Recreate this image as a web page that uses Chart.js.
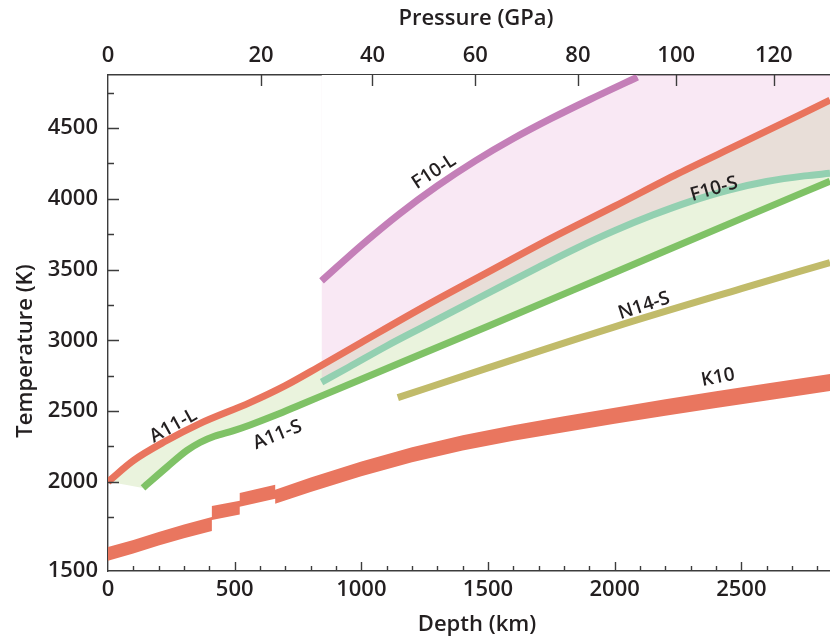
<!DOCTYPE html>
<html>
<head>
<meta charset="utf-8">
<title>Mantle melting curves</title>
<script src="https://cdn.jsdelivr.net/npm/chart.js@4.4.1/dist/chart.umd.min.js"></script>
<style>
  html, body { margin: 0; padding: 0; background: #fff; }
  #wrap { width: 830px; height: 642px; position: relative; }
</style>
</head>
<body>
<div id="wrap"><canvas id="chart"></canvas></div>
<script>
// axis ranges (the bottom edge of the figure is printed "1500")
const depthMax = 2850;
const tempMin = 1370;
const tempMax = 4875;
const tempBottomLabel = '1500';

const depthTicks = Array.from({ length: 29 }, (_, i) => i * 100);
const tempTicks = [1750, 2000, 2250, 2500, 2750, 3000, 3250, 3500, 3750, 4000, 4250, 4500, 4750];
const pressureLabels = [0, 20, 40, 60, 80, 100, 120];
const pressureDepths = [0, 604, 1044, 1450, 1855, 2243, 2628];

// A11 liquidus / solidus
const a11LiqDepth = [0, 100, 230, 360, 560, 700, 830, 1000, 1250, 1500, 1750, 2000, 2250, 2500, 2850];
const a11LiqTemp = [2000, 2150, 2290, 2410, 2560, 2680, 2810, 2985, 3240, 3482, 3722, 3948, 4178, 4393, 4697];
const a11SolDepth = [138, 233, 312, 363, 420, 493, 561, 660, 760, 1000, 1500, 2000, 2500, 2850];
const a11SolTemp = [1957, 2105, 2222, 2278, 2322, 2360, 2402, 2470, 2545, 2725, 3100, 3480, 3860, 4125];

// F10 liquidus / solidus
const f10LiqDepth = [843, 1000, 1150, 1300, 1450, 1600, 1750, 1900, 2090];
const f10LiqTemp = [3420, 3671, 3893, 4091, 4268, 4426, 4568, 4700, 4860];
const f10SolDepth = [843, 950, 1100, 1250, 1400, 1550, 1700, 1850, 2000, 2150, 2300, 2450, 2600, 2750, 2850];
const f10SolTemp = [2705, 2810, 2960, 3100, 3240, 3380, 3518, 3652, 3775, 3885, 3982, 4062, 4122, 4162, 4180];

// N14 solidus
const n14SolDepth = [1144, 1500, 2000, 2500, 2850];
const n14SolTemp = [2595, 2805, 3095, 3365, 3550];

// K10 adiabat band (steps at 410, 520, 660 km)
const k10Depth = [0, 100, 200, 300, 410, 410, 520, 520, 660, 660, 800, 1000, 1200, 1400, 1600, 1800, 2000, 2200, 2400, 2600, 2850];
const k10Upper = [1539, 1589, 1646, 1699, 1751, 1829, 1867, 1922, 1980, 1945, 2030, 2143, 2244, 2329, 2400, 2463, 2524, 2583, 2640, 2695, 2762];
const k10Lower = [1443, 1493, 1550, 1601, 1653, 1731, 1769, 1824, 1880, 1845, 1928, 2039, 2138, 2221, 2290, 2351, 2410, 2467, 2522, 2575, 2642];

const curveLabels = [
    { text: 'A11-L', depth: 258, temp: 2395, angle: -29 },
    { text: 'A11-S', depth: 669, temp: 2331, angle: -22 },
    { text: 'F10-L', depth: 1287, temp: 4190, angle: -33 },
    { text: 'F10-S', depth: 2392, temp: 4069, angle: -16 },
    { text: 'N14-S', depth: 2116, temp: 3243, angle: -18 },
    { text: 'K10', depth: 2408, temp: 2737, angle: -11 },
];

const colors = {
    a11L: '#e9745d',
    a11S: '#7fc266',
    f10L: '#c47fb8',
    f10S: '#93d0b1',
    n14S: '#c1bb6a',
    k10: '#e9765f',
    pinkFill: 'rgba(225, 140, 200, 0.2)',
    greenFill: '#eaf3dd',
    axis: '#3c3c3c',
    text: '#231f20',
};
const none = 'rgba(0,0,0,0)';
const fontFamily = "'Open Sans', 'Noto Sans', sans-serif";
const lineWidth = 7;

const pts = (xs, ys) => xs.map((x, i) => ({ x: x, y: ys[i] }));

// fills are drawn highest index first: K10, green, pink, then white above F10-L
const datasets = [
    { label: 'F10-L', data: pts(f10LiqDepth, f10LiqTemp), borderColor: colors.f10L, borderWidth: lineWidth,
      fill: 'end', backgroundColor: '#ffffff' },
    { label: 'F10-S', data: pts(f10SolDepth, f10SolTemp), borderColor: colors.f10S, borderWidth: lineWidth,
      fill: 'end', backgroundColor: colors.pinkFill },
    { label: 'A11-S', data: pts(a11SolDepth, a11SolTemp), borderColor: colors.a11S, borderWidth: lineWidth,
      fill: { target: 4 }, backgroundColor: colors.greenFill },
    { label: 'A11 edge', data: [{ x: a11LiqDepth[0], y: a11LiqTemp[0] }, { x: a11SolDepth[0], y: a11SolTemp[0] }],
      borderColor: none, borderWidth: 0, fill: { target: 4 }, backgroundColor: colors.greenFill },
    { label: 'A11-L', data: pts(a11LiqDepth, a11LiqTemp), borderColor: colors.a11L, borderWidth: lineWidth, fill: false },
    { label: 'N14-S', data: pts(n14SolDepth, n14SolTemp), borderColor: colors.n14S, borderWidth: lineWidth, fill: false },
    { label: 'K10', data: pts(k10Depth, k10Upper), borderColor: none, borderWidth: 0, tension: 0,
      cubicInterpolationMode: 'default', fill: { target: 7 }, backgroundColor: colors.k10 },
    { label: 'K10 low', data: pts(k10Depth, k10Lower), borderColor: none, borderWidth: 0, tension: 0,
      cubicInterpolationMode: 'default', fill: false },
];

// inward tick marks, axis titles and curve names
const decor = {
    id: 'decor',
    afterDatasetsDraw(chart) {
        const ctx = chart.ctx;
        const x = chart.scales.x;
        const y = chart.scales.y;
        ctx.save();
        ctx.fillStyle = colors.text;
        ctx.font = `600 19px ${fontFamily}`;
        ctx.textAlign = 'center';
        ctx.textBaseline = 'middle';
        curveLabels.forEach(l => {
            ctx.save();
            ctx.translate(x.getPixelForValue(l.depth), y.getPixelForValue(l.temp));
            ctx.rotate(l.angle * Math.PI / 180);
            ctx.fillText(l.text, 0, 0);
            ctx.restore();
        });
        ctx.restore();
    },
    afterDraw(chart) {
        const ctx = chart.ctx;
        const { left, right, top, bottom } = chart.chartArea;
        const { x, x2, y } = chart.scales;
        ctx.save();
        ctx.strokeStyle = colors.axis;
        ctx.lineWidth = 1.4;
        ctx.beginPath();
        y.ticks.forEach(t => {
            if (t.value === tempMin) return;
            const p = Math.round(y.getPixelForValue(t.value)) + 0.5;
            const len = t.value % 500 === 0 ? 11 : 6;
            ctx.moveTo(left, p);
            ctx.lineTo(left + len, p);
        });
        x.ticks.forEach(t => {
            if (t.value === 0) return;
            const p = Math.round(x.getPixelForValue(t.value)) + 0.5;
            const len = t.value % 500 === 0 ? 9 : 5;
            ctx.moveTo(p, bottom);
            ctx.lineTo(p, bottom - len);
        });
        x2.ticks.forEach(t => {
            if (t.value === 0) return;
            const p = Math.round(x2.getPixelForValue(t.value)) + 0.5;
            ctx.moveTo(p, top);
            ctx.lineTo(p, top + 11);
        });
        ctx.stroke();

        ctx.fillStyle = colors.text;
        ctx.font = `600 22px ${fontFamily}`;
        ctx.textAlign = 'center';
        ctx.textBaseline = 'middle';
        ctx.fillText('Pressure (GPa)', 476, 19);
        ctx.fillText('Depth (km)', 477, 625);
        ctx.save();
        ctx.translate(26, 351);
        ctx.rotate(-Math.PI / 2);
        ctx.fillText('Temperature (K)', 0, 0);
        ctx.restore();
        ctx.restore();
    }
};

const tickFont = { family: fontFamily, size: 22, weight: '600' };
const axisBorder = { display: true, color: colors.axis, width: 1.4 };

new Chart(document.getElementById('chart').getContext('2d'), {
    type: 'line',
    data: { datasets: datasets },
    options: {
        responsive: true,
        maintainAspectRatio: false,
        animation: false,
        layout: { padding: 0 },
        elements: {
            point: { radius: 0, hoverRadius: 0 },
            line: { cubicInterpolationMode: 'monotone', borderCapStyle: 'butt' }
        },
        plugins: {
            legend: { display: false },
            tooltip: { enabled: false },
            filler: { drawTime: 'beforeDatasetsDraw' }
        },
        scales: {
            x: {
                type: 'linear',
                position: 'bottom',
                min: 0,
                max: depthMax,
                grid: { display: false, drawTicks: false },
                border: axisBorder,
                ticks: {
                    autoSkip: false,
                    maxRotation: 0,
                    padding: 6,
                    color: colors.text,
                    font: tickFont,
                    callback: v => (v % 500 === 0 ? v : '')
                },
                afterBuildTicks: s => { s.ticks = depthTicks.map(v => ({ value: v })); },
                afterFit: s => { s.height = 71; }
            },
            x2: {
                type: 'linear',
                position: 'top',
                min: 0,
                max: depthMax,
                grid: { display: false, drawTicks: false },
                border: axisBorder,
                ticks: {
                    autoSkip: false,
                    maxRotation: 0,
                    padding: 6,
                    color: colors.text,
                    font: tickFont,
                    callback: (v, i) => pressureLabels[i]
                },
                afterBuildTicks: s => { s.ticks = pressureDepths.map(v => ({ value: v })); },
                afterFit: s => { s.height = 75; }
            },
            y: {
                type: 'linear',
                min: tempMin,
                max: tempMax,
                grid: { display: false, drawTicks: false },
                border: axisBorder,
                ticks: {
                    autoSkip: false,
                    padding: 10,
                    color: colors.text,
                    font: tickFont,
                    callback: v => (v === tempMin ? tempBottomLabel : (v % 500 === 0 ? v : ''))
                },
                afterBuildTicks: s => {
                    s.ticks = [{ value: tempMin }].concat(tempTicks.map(v => ({ value: v })));
                },
                afterFit: s => { s.width = 108; }
            }
        }
    },
    plugins: [decor]
});
</script>
</body>
</html>
